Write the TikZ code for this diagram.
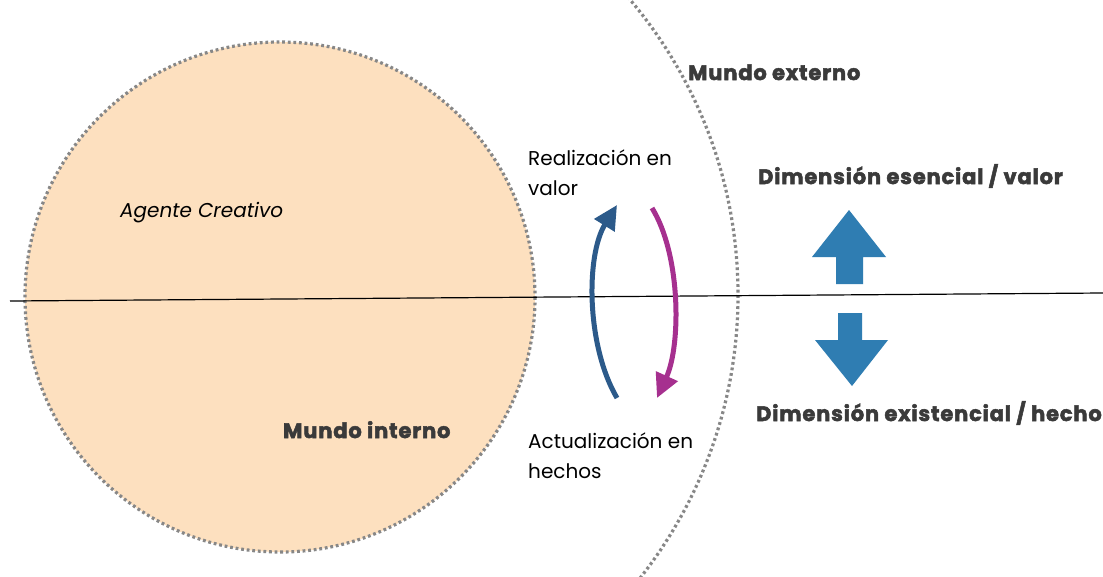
\documentclass[tikz,border=0pt]{standalone}
\usepackage{fontspec}
\setmainfont{Poppins}
\newfontfamily\heavyfont{Poppins}[FakeBold=2.4,LetterSpace=4]
\usetikzlibrary{arrows.meta}
\definecolor{peach}{RGB}{253,224,191}
\definecolor{dotgray}{RGB}{135,135,135}
\definecolor{darktext}{RGB}{58,58,58}
\definecolor{cycleblue}{RGB}{44,90,138}
\definecolor{cyclemag}{RGB}{166,48,143}
\definecolor{blockblue}{RGB}{47,125,178}
\tikzset{
  dotline/.style={draw=dotgray,line width=3.2pt,dash pattern=on 2.8pt off 2.8pt},
  plain/.style={font=\fontsize{20}{30}\selectfont,text=black,inner sep=0pt,anchor=base west,align=left},
  heavy/.style={font=\heavyfont\bfseries\fontsize{21}{24}\selectfont,text=darktext,inner sep=0pt,anchor=base west},
  cyc/.style={line width=5pt,-{Triangle[length=24pt,width=23pt]}},
  blockarrow/.style={fill=blockblue,draw=none}
}
\begin{document}
\begin{tikzpicture}[x=1pt,y=-1pt]
\useasboundingbox (0,0) rectangle (1103,576);
\fill[white] (0,0) rectangle (1103,576);
% outer world arc
\begin{scope}
\clip (0,0) rectangle (1103,576);
\draw[dotline] (280,295) circle (458);
\end{scope}
% inner circle
\fill[peach] (280,297) circle (255);
\draw[dotline] (280,297) circle (255);
% horizontal line
\coordinate (hl) at (10,301);
\coordinate (hr) at (1103,293);
\draw[black,line width=1.2pt] (hl) -- (hr);
% labels
\node[plain,font=\itshape\fontsize{20}{30}\selectfont] (agente) at (120,217) {Agente Creativo};
\node[heavy] (interno) at (283,438) {Mundo interno};
\node[heavy] (externo) at (688,80) {Mundo externo};
\node[heavy] (esencial) at (758,184) {Dimensión esencial / valor};
\node[heavy] (existencial) at (756,421) {Dimensión existencial / hecho};
\node[plain] (realiz) at (528,195) {Realización en\\valor};
\node[plain] (actual) at (528,478) {Actualización en\\hechos};
% cycle arrows
\coordinate (b0) at (617,398);
\coordinate (b1) at (617,205);
\coordinate (m0) at (652,208);
\coordinate (m1) at (657,398);
\draw[cyc,cycleblue] (b0) .. controls (586,345) and (586,255) .. (b1);
\draw[cyc,cyclemag] (m0) .. controls (681,255) and (681,345) .. (m1);
% block arrows
\fill[blockarrow] (849,210) -- (886,257) -- (863,257) -- (863,284) -- (836,284) -- (836,257) -- (812,257) -- cycle;
\fill[blockarrow] (838,313) -- (862,313) -- (862,340) -- (888,340) -- (852,386) -- (815,340) -- (838,340) -- cycle;
\end{tikzpicture}
\end{document}
